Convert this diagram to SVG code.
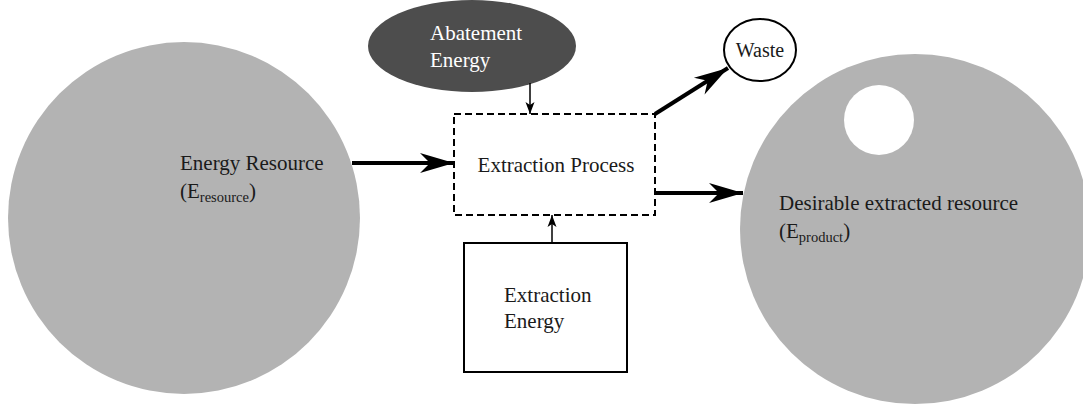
<svg xmlns="http://www.w3.org/2000/svg" width="1083" height="409" viewBox="0 0 1083 409">
<style>
text{font-family:"Liberation Serif","Times New Roman",serif;font-size:21px;fill:#1a1a1a}
.big{fill:#b3b3b3}
.thick{stroke:#000;stroke-width:4;fill:none}
.thin{stroke:#000;stroke-width:1.5;fill:none}
.sub{font-size:14.5px}
</style>
<defs>
<marker id="bigHead" markerUnits="userSpaceOnUse" markerWidth="40" markerHeight="26" refX="34" refY="12" orient="auto">
<path d="M0,2 L34,12 L0,22 L10,12 Z" fill="#000"/>
</marker>
<marker id="smallHead" markerUnits="userSpaceOnUse" markerWidth="14" markerHeight="10" refX="12" refY="5" orient="auto">
<path d="M0,0.5 L12,5 L0,9.5 L3,5 Z" fill="#000"/>
</marker>
</defs>
<g id="energy-resource">
<circle class="big" cx="184" cy="218" r="176"/>
<text x="180" y="170">Energy Resource</text>
<text x="180" y="198">(E<tspan class="sub" dy="4">resource</tspan><tspan dy="-4">)</tspan></text>
</g>
<g id="desirable-resource">
<circle class="big" cx="915" cy="229" r="175"/>
<circle cx="879" cy="120" r="35" fill="#fff"/>
<text x="779" y="210">Desirable extracted resource</text>
<text x="779" y="238">(E<tspan class="sub" dy="4">product</tspan><tspan dy="-4">)</tspan></text>
</g>
<g id="abatement-energy">
<ellipse cx="472" cy="46" rx="104" ry="46" fill="#4d4d4d"/>
<text x="430" y="40" style="fill:#fff">Abatement</text>
<text x="430" y="67" style="fill:#fff">Energy</text>
</g>
<g id="waste">
<ellipse cx="760" cy="50" rx="36" ry="31" fill="#fff" stroke="#000" stroke-width="2"/>
<text x="760" y="57" text-anchor="middle" style="font-size:20px">Waste</text>
</g>
<g id="extraction-process">
<rect x="454" y="114" width="201" height="101" fill="#fff" stroke="#000" stroke-width="2" stroke-dasharray="7,4"/>
<text x="556" y="172" text-anchor="middle">Extraction Process</text>
</g>
<g id="extraction-energy">
<rect x="464" y="243" width="163" height="129" fill="#fff" stroke="#000" stroke-width="2"/>
<text x="504" y="302">Extraction</text>
<text x="504" y="328">Energy</text>
</g>
<g id="connectors">
<line class="thick" x1="352" y1="163" x2="454" y2="163" marker-end="url(#bigHead)"/>
<line class="thick" x1="655" y1="193" x2="743" y2="193" marker-end="url(#bigHead)"/>
<line class="thick" x1="655" y1="114" x2="728" y2="68" marker-end="url(#bigHead)"/>
<line class="thin" x1="530" y1="83" x2="530" y2="114" marker-end="url(#smallHead)"/>
<line class="thin" x1="552" y1="243" x2="552" y2="215" marker-end="url(#smallHead)"/>
</g>
</svg>
